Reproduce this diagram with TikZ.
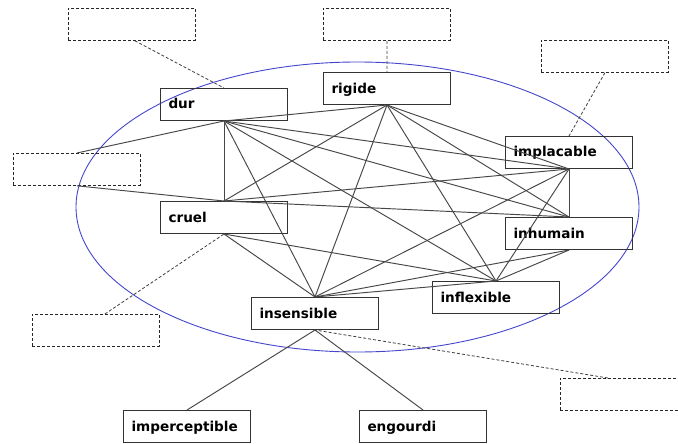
\documentclass[tikz,border=0pt]{standalone}
\usepackage{fontspec}
\setmainfont{DejaVu Sans}
\definecolor{ellblue}{RGB}{70,70,205}
\begin{document}
\begin{tikzpicture}[x=1pt,y=-1pt,
  word/.style={draw=black!80, line width=1pt, minimum height=32pt, text width=111pt,
    inner xsep=8pt, inner ysep=0pt, align=left,
    font=\bfseries\fontsize{13.6}{15}\selectfont, text height=11.5pt, text depth=2.5pt,
    anchor=north west},
  ghost/.style={draw=black!85, dash pattern=on 3pt off 2pt, line width=0.8pt,
    minimum width=127pt, minimum height=32pt, inner sep=0pt, anchor=north west},
  link/.style={draw=black!72, line width=0.95pt},
  dlink/.style={draw=black!75, dash pattern=on 3pt off 2pt, line width=0.8pt}]
\useasboundingbox (0,0) rectangle (678,444);
\fill[white] (0,0) rectangle (678,444);

% ellipse
\draw[ellblue, line width=0.9pt] (357.5,207) ellipse [x radius=281.5pt, y radius=145pt];

% word nodes
\node[word] (dur) at (160,88) {dur};
\node[word] (rigide) at (323,72) {rigide};
\node[word] (implacable) at (505,136) {implacable};
\node[word] (inhumain) at (505,217) {inhumain};
\node[word] (cruel) at (160,201) {cruel};
\node[word] (insensible) at (251,297) {insensible};
\node[word] (inflexible) at (432,281) {inflexible};
\node[word] (imperceptible) at (123,410) {imperceptible};
\node[word] (engourdi) at (359,410) {engourdi};

% empty dashed boxes
\node[ghost] (gtl) at (68,8) {};
\node[ghost] (gtc) at (323,8) {};
\node[ghost] (gtr) at (541,40) {};
\node[ghost] (glf) at (13,153) {};
\node[ghost] (gbl) at (32,314) {};
\node[ghost] (gbr) at (560,378) {};

% solid links
\draw[link] (dur.south) -- (rigide.south);
\draw[link] (dur.south) -- (cruel.north);
\draw[link] (dur.south) -- (insensible.north);
\draw[link] (dur.south) -- (implacable.south);
\draw[link] (dur.south) -- (inhumain.north);
\draw[link] (dur.south) -- (inflexible.north);
\draw[link] (rigide.south) -- (cruel.north);
\draw[link] (rigide.south) -- (insensible.north);
\draw[link] (rigide.south) -- (inflexible.north);
\draw[link] (rigide.south) -- (implacable.south);
\draw[link] (rigide.south) -- (inhumain.north);
\draw[link] (implacable.south) -- (cruel.north);
\draw[link] (implacable.south) -- (inhumain.north);
\draw[link] (implacable.south) -- (insensible.north);
\draw[link] (implacable.south) -- (inflexible.north);
\draw[link] (inhumain.north) -- (cruel.north);
\draw[link] (inhumain.south) -- (insensible.north);
\draw[link] (inhumain.south) -- (inflexible.north);
\draw[link] (cruel.south) -- (insensible.north);
\draw[link] (cruel.south) -- (inflexible.north);
\draw[link] (insensible.north) -- (inflexible.north);
\draw[link] (insensible.south) -- (imperceptible.north);
\draw[link] (insensible.south) -- (engourdi.north);
\draw[link] (glf.north) -- (dur.south);
\draw[link] (glf.south) -- (cruel.north);

% dashed links
\draw[dlink] ([xshift=3pt]gtl.south) -- (dur.north);
\draw[dlink] (gtc.south) -- (rigide.north);
\draw[dlink] (gtr.south) -- (implacable.north);
\draw[dlink] ([xshift=9pt]gbl.north) -- (cruel.south);
\draw[dlink] ([xshift=-16pt]gbr.north) -- (insensible.south);
\end{tikzpicture}
\end{document}
